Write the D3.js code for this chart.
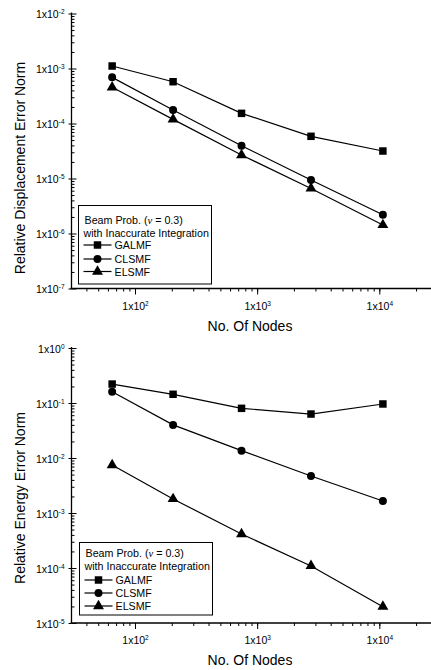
<!DOCTYPE html>
<html>
<head>
<meta charset="utf-8">
<script src="https://cdn.jsdelivr.net/npm/d3@7"></script>
<style>
  html, body { margin: 0; padding: 0; background: #fff; }
  svg { display: block; font-family: "Liberation Sans", Arial, sans-serif; }
</style>
</head>
<body>
<svg id="chart" width="431" height="670"></svg>
<script>
// ---------- data ----------
const nodes = [65, 205, 745, 2760, 10700];
const seriesNames = ["GALMF", "CLSMF", "ELSMF"];
const seriesSymbols = ["square", "circle", "triangle"];
const dispGALMF = [1.11e-3, 5.75e-4, 1.53e-4, 5.85e-5, 3.16e-5];
const dispCLSMF = [6.9e-4, 1.76e-4, 3.95e-5, 9.4e-6, 2.2e-6];
const dispELSMF = [4.55e-4, 1.19e-4, 2.67e-5, 6.6e-6, 1.43e-6];
const energyGALMF = [0.221, 0.144, 0.080, 0.063, 0.096];
const energyCLSMF = [0.160, 0.040, 0.0136, 0.0047, 0.00165];
const energyELSMF = [0.00746, 0.0018, 4.15e-4, 1.09e-4, 1.98e-5];
const xMajorExps = [2, 3, 4];
const dispMajorExps = [-2, -3, -4, -5, -6, -7];
const energyMajorExps = [0, -1, -2, -3, -4, -5];
const xTitle = "No. Of Nodes";
const dispTitle = "Relative Displacement Error Norm";
const energyTitle = "Relative Energy Error Norm";
const legendLine1 = ["Beam Prob. (", "ν", " = 0.3)"];
const legendLine2 = "with Inaccurate Integration";

// ---------- drawing ----------
const svg = d3.select("#chart");

function symbolPath(kind) {
  if (kind === "square") return d3.symbol(d3.symbolSquare, 56)();
  if (kind === "circle") return d3.symbol(d3.symbolCircle, 50)();
  return d3.symbol(d3.symbolTriangle, 52)();
}

function drawPanel(cfg) {
  const g = svg.append("g");
  const x = d3.scaleLog().domain([1e2, 1e4]).range([135, 379.3]);
  const y = d3.scaleLog().domain([Math.pow(10, cfg.yMin), Math.pow(10, cfg.yMax)]).range([cfg.yBottom, cfg.yTop]);
  const xLeft = 71.5, xRight = 431;

  // minor & major x ticks
  const xFull = d3.scaleLog().domain([x.invert(xLeft), x.invert(xRight + 5)]);
  const xMinor = xFull.ticks().filter(v => {
    const px = x(v); return px > xLeft + 1 && px <= xRight;
  });
  const xMinorAxis = d3.axisBottom(x).tickValues(xMinor).tickSize(3).tickFormat("");
  g.append("g").attr("transform", `translate(0,${cfg.yBottom})`).call(xMinorAxis)
    .call(s => s.select(".domain").remove());
  const xMajorAxis = d3.axisBottom(x).tickValues(xMajorExps.map(e => Math.pow(10, e))).tickSize(6).tickPadding(10).tickFormat("");
  const xm = g.append("g").attr("transform", `translate(0,${cfg.yBottom})`).call(xMajorAxis);
  xm.select(".domain").remove();
  xm.selectAll(".tick").each(function(d, i) {
    const t = d3.select(this).append("text")
      .attr("y", 21).attr("text-anchor", "middle").attr("fill", "#000")
      .attr("font-size", 10.5);
    t.append("tspan").text("1x10");
    t.append("tspan").attr("dy", -4).attr("font-size", 6.5).text(xMajorExps[i]);
  });
  g.append("line").attr("x1", xLeft - 1).attr("x2", xRight).attr("y1", cfg.yBottom).attr("y2", cfg.yBottom)
    .attr("stroke", "#000").attr("stroke-width", 1.3);

  // y ticks
  const yMinor = y.ticks().filter(v => Math.abs(Math.log10(v) - Math.round(Math.log10(v))) > 1e-6);
  g.append("g").attr("transform", `translate(${xLeft},0)`)
    .call(d3.axisRight(y).tickValues(yMinor).tickSize(3).tickFormat(""))
    .call(s => s.select(".domain").remove());
  const yMajorVals = cfg.majorExps.map(e => Math.pow(10, e));
  g.append("g").attr("transform", `translate(${xLeft},0)`)
    .call(d3.axisRight(y).tickValues(yMajorVals).tickSize(5).tickFormat(""))
    .call(s => s.select(".domain").remove());
  const ym = g.append("g").attr("transform", `translate(${xLeft},0)`)
    .call(d3.axisLeft(y).tickValues(yMajorVals).tickSize(3).tickFormat(""));
  ym.select(".domain").remove();
  ym.selectAll(".tick").each(function(d, i) {
    const t = d3.select(this).append("text")
      .attr("x", -7).attr("y", 4).attr("text-anchor", "end").attr("fill", "#000")
      .attr("font-size", 10.5);
    t.append("tspan").text("1x10");
    t.append("tspan").attr("dy", -4).attr("font-size", 6.5).text(cfg.majorExps[i]);
  });
  g.append("line").attr("x1", xLeft).attr("x2", xLeft).attr("y1", cfg.yTop - 1).attr("y2", cfg.yBottom)
    .attr("stroke", "#000").attr("stroke-width", 1.3);

  // titles
  g.append("text").attr("x", 250).attr("y", cfg.yBottom + 42).attr("text-anchor", "middle")
    .attr("font-size", 14).attr("fill", "#000").text(xTitle);
  g.append("text").attr("transform", `translate(25,${cfg.yTitleCenter}) rotate(-90)`)
    .attr("text-anchor", "middle").attr("font-size", cfg.yTitleSize).attr("fill", "#000").text(cfg.yTitle);

  // series
  const line = d3.line().x(d => x(d[0])).y(d => y(d[1]));
  cfg.series.forEach((vals, si) => {
    const pts = nodes.map((n, i) => [n, vals[i]]);
    g.append("path").datum(pts).attr("d", line).attr("fill", "none")
      .attr("stroke", "#000").attr("stroke-width", 1.2);
    g.selectAll(null).data(pts).enter().append("path")
      .attr("transform", d => `translate(${x(d[0])},${y(d[1])})`)
      .attr("d", symbolPath(seriesSymbols[si])).attr("fill", "#000");
  });

  // legend
  const L = cfg.legend;
  const lg = g.append("g");
  lg.append("rect").attr("x", L.x).attr("y", L.y).attr("width", L.w).attr("height", L.h)
    .attr("fill", "#fff").attr("stroke", "#000").attr("stroke-width", 1);
  const t1 = lg.append("text").attr("x", L.x + 6).attr("y", L.rows[0]).attr("font-size", 10.7).attr("fill", "#000");
  t1.append("tspan").text(legendLine1[0]);
  t1.append("tspan").attr("font-family", "Liberation Serif, serif").attr("font-style", "italic").text(legendLine1[1]);
  t1.append("tspan").text(legendLine1[2]);
  lg.append("text").attr("x", L.x + 5).attr("y", L.rows[1]).attr("font-size", 10.7).attr("fill", "#000").text(legendLine2);
  seriesNames.forEach((name, si) => {
    const cy = L.rows[2 + si] - 4;
    lg.append("line").attr("x1", L.x + 5).attr("x2", L.x + 33).attr("y1", cy).attr("y2", cy)
      .attr("stroke", "#000").attr("stroke-width", 1.2);
    lg.append("path").attr("transform", `translate(${L.x + 19},${cy})`)
      .attr("d", symbolPath(seriesSymbols[si])).attr("fill", "#000");
    lg.append("text").attr("x", L.x + 36).attr("y", L.rows[2 + si]).attr("font-size", 10.7)
      .attr("fill", "#000").text(name);
  });
}

drawPanel({
  yMin: -7, yMax: -2, yTop: 13.5, yBottom: 288.5,
  majorExps: dispMajorExps,
  yTitle: dispTitle, yTitleCenter: 168, yTitleSize: 14,
  series: [dispGALMF, dispCLSMF, dispELSMF],
  legend: { x: 78.5, y: 205.5, w: 133, h: 78.5, rows: [224, 236.5, 249, 263, 275.5] }
});
drawPanel({
  yMin: -5, yMax: 0, yTop: 348, yBottom: 623,
  majorExps: energyMajorExps,
  yTitle: energyTitle, yTitleCenter: 498, yTitleSize: 14,
  series: [energyGALMF, energyCLSMF, energyELSMF],
  legend: { x: 79.5, y: 542.5, w: 133, h: 72.5, rows: [556.5, 569.5, 584, 597, 610] }
});
</script>
</body>
</html>
